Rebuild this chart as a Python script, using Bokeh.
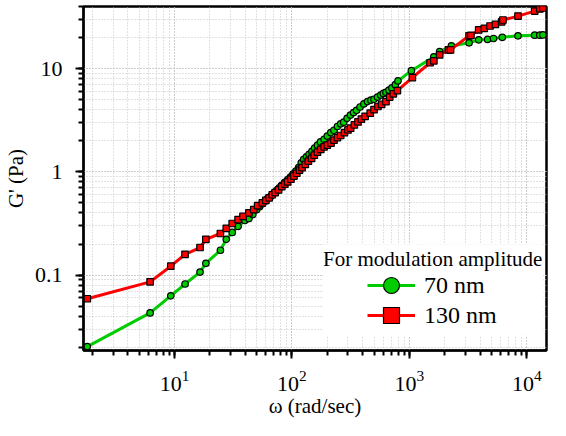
from bokeh.plotting import figure
from bokeh.models import (Range1d, LogTickFormatter, CustomJSTickFormatter, Legend,
                          LegendItem, Label, BoxAnnotation)
from bokeh.embed import file_html
from bokeh.resources import INLINE

# ---- data ----
omega_70 = [1.81, 6.2, 9.3, 12.3, 16.5, 18.5, 24.6, 27.6, 31.0, 34.8, 39.8, 43.0, 46.4,
            50, 53, 56, 59, 62, 66, 70, 74, 78, 82, 87, 92, 97, 102, 108, 114, 120, 126,
            133, 140, 148, 156, 165, 175, 188, 200, 214, 228, 244, 260, 276, 295, 315,
            335, 355, 380, 410, 440, 470, 500, 535, 570, 600, 632, 670, 710, 760, 800,
            1040, 1615, 1810, 2280, 3220, 3890, 4640, 5210, 6180, 8410, 11660, 12900, 13700]
g_70 = [0.0203, 0.043, 0.063, 0.082, 0.107, 0.130, 0.174, 0.222, 0.259, 0.296, 0.338, 0.353, 0.386,
        0.43, 0.46, 0.49, 0.52, 0.55, 0.58, 0.62, 0.66, 0.70, 0.74, 0.79, 0.84, 0.89, 0.95, 1.02, 1.10, 1.22, 1.32,
        1.40, 1.48, 1.58, 1.70, 1.82, 1.95, 2.07, 2.22, 2.40, 2.53, 2.75, 2.92, 3.03, 3.30, 3.55,
        3.75, 3.95, 4.25, 4.55, 4.80, 4.95, 5.05, 5.30, 5.55, 5.75, 5.90, 6.20, 6.50, 7.0, 7.6,
        9.56, 13.0, 14.6, 16.6, 17.8, 19.0, 19.2, 19.6, 20.1, 20.8, 21.1, 21.1, 21.2]

omega_130 = [1.81, 6.2, 9.3, 12.3, 16.5, 18.5, 24.6, 27.6, 31.0, 34.8, 38.3, 43.0, 47.3, 51, 56,
             60, 64, 68, 72, 77, 82, 87, 92, 98, 104, 110, 116, 122, 130, 138, 147, 155, 165,
             176, 188, 200, 215, 228, 244, 260, 280, 300, 316, 340, 365, 390, 420, 464, 500,
             540, 580, 632, 680, 730, 790,
             1060, 1500, 1615, 1810, 2150, 2240, 3220, 3340, 3890, 4340, 4860, 5400, 6100,
             6260, 8410, 11660, 12900, 13700]
g_130 = [0.059, 0.086, 0.122, 0.159, 0.185, 0.222, 0.253, 0.283, 0.316, 0.345, 0.37, 0.40, 0.43, 0.47, 0.50,
         0.53, 0.56, 0.60, 0.63, 0.67, 0.72, 0.76, 0.80, 0.85, 0.91, 0.97, 1.04, 1.10, 1.18, 1.27, 1.35, 1.45, 1.55,
         1.65, 1.75, 1.82, 1.90, 2.03, 2.15, 2.25, 2.40, 2.55, 2.65, 2.85, 3.05, 3.25, 3.45, 3.70, 4.00,
         4.30, 4.50, 4.80, 5.30, 5.70, 6.13,
         8.2, 11.4, 11.9, 13.6, 15.2, 15.2, 20.8, 21.0, 23.7, 24.6, 25.9, 26.8, 28.4,
         29.6, 32.3, 36.1, 37.9, 38.7]

labels = ["70 nm", "130 nm"]
legend_title = "For modulation amplitude"

FONT = "Liberation Serif"
GREEN = "#00cc00"
RED = "#ff0000"

p = figure(width=550, height=420, x_axis_type="log", y_axis_type="log",
           x_range=Range1d(1.68, 14700), y_range=Range1d(0.0186, 40),
           output_backend="svg", toolbar_location=None,
           min_border_left=82, min_border_right=4, min_border_top=6, min_border_bottom=70)

p.outline_line_color = "black"
p.outline_line_width = 2.5
p.background_fill_color = "white"
p.border_fill_color = "white"

p.axis.axis_line_width = 2
p.axis.major_tick_line_width = 2
p.axis.minor_tick_line_width = 2
p.axis.major_tick_in = 0
p.axis.major_tick_out = 8
p.axis.minor_tick_in = 0
p.axis.minor_tick_out = 5
p.axis.major_label_text_font = FONT
p.axis.major_label_text_font_size = "22px"
p.axis.major_label_text_color = "black"
p.axis.axis_label_text_font = FONT
p.axis.axis_label_text_font_size = "21px"
p.axis.axis_label_text_font_style = "normal"
p.axis.axis_label_text_color = "black"

p.xaxis.formatter = LogTickFormatter()
p.yaxis.formatter = CustomJSTickFormatter(code="return tick < 1 ? tick.toFixed(1) : tick.toFixed(0);")
p.xaxis.axis_label = "ω (rad/sec)"
p.yaxis.axis_label = "G' (Pa)"
p.xaxis.major_label_standoff = 12
p.yaxis.major_label_standoff = 13
p.xaxis.axis_label_standoff = 0
p.yaxis.axis_label_standoff = 4

for g in (p.xgrid[0], p.ygrid[0]):
    g.grid_line_color = "#c4c4c4"
    g.grid_line_dash = "1 2"
    g.grid_line_width = 1
    g.minor_grid_line_color = "#c4c4c4"
    g.minor_grid_line_dash = "1 2"
    g.minor_grid_line_width = 1

gl = p.line(omega_70, g_70, line_color=GREEN, line_width=3)
gs = p.scatter(omega_70, g_70, marker="circle", size=6.5, fill_color=GREEN,
               line_color="black", line_width=1.2)
rl = p.line(omega_130, g_130, line_color=RED, line_width=3)
rs = p.scatter(omega_130, g_130, marker="square", size=6.5, fill_color=RED,
               line_color="black", line_width=1.2)

# white area behind the legend
box = BoxAnnotation(left=185, right=13800, bottom=0.0259, top=0.199,
                    fill_color="white", fill_alpha=1.0, line_alpha=0)
p.add_layout(box)

title = Label(x=1580, y=0.142, text=legend_title, text_font=FONT, text_font_size="21px",
              text_align="center", text_baseline="middle", text_color="black")
p.add_layout(title)

common = dict(orientation="vertical", glyph_width=48, glyph_height=40, spacing=0,
              padding=0, margin=0, label_standoff=9, label_text_font=FONT,
              label_text_font_size="24px", label_text_color="black", label_height=40,
              background_fill_alpha=0, border_line_alpha=0)
leg1 = Legend(items=[LegendItem(label=labels[0], renderers=[gl, gs])],
              location=(284, 45), **common)
leg2 = Legend(items=[LegendItem(label=labels[1], renderers=[rl, rs])],
              location=(284, 15), **common)
p.add_layout(leg1)
p.add_layout(leg2)

open("out.html", "w").write(file_html(p, INLINE))
